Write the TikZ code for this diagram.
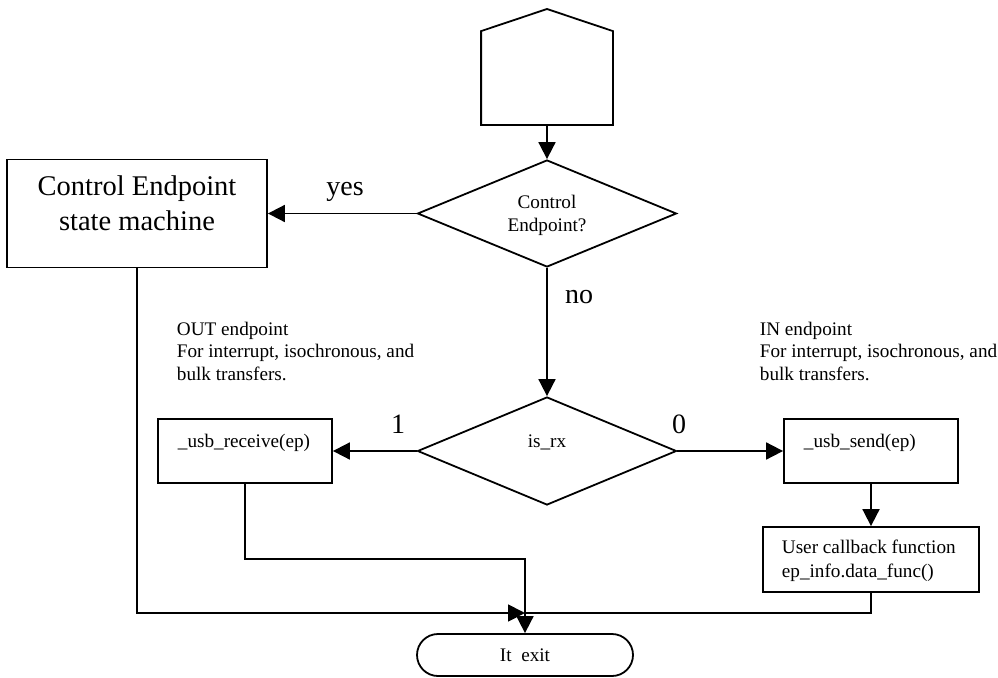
\documentclass[tikz,border=0pt]{standalone}
\usepackage{fontspec}
\setmainfont{Liberation Serif}
\usetikzlibrary{arrows.meta,shapes.geometric,shapes.misc}
\begin{document}
\begin{tikzpicture}[x=1pt,y=-1pt,
  line width=1.8pt,
  arr/.style={-{Triangle[length=17pt,width=17pt]}},
  procbox/.style={draw, rectangle, inner sep=0pt},
  decision/.style={draw, diamond, inner sep=0pt},
  small/.style={inner sep=0pt, font=\fontsize{19.2}{22.5}\selectfont},
  big/.style={inner sep=0pt, font=\fontsize{28.5}{35}\selectfont},
  lbl/.style={inner sep=0pt, anchor=base, font=\fontsize{28}{33}\selectfont}
]
\useasboundingbox (0,0) rectangle (998,677);

% entry connector (house-shaped)
\node[minimum width=130, minimum height=92, inner sep=0pt] (start) at (547,78) {};
\draw (start.south west) -- (start.north west) -- (547,9) -- (start.north east)
      -- (start.south east) -- cycle;

% decisions
\node[decision, minimum width=259, minimum height=107] (d1) at (547,213.5) {};
\node[decision, minimum width=259, minimum height=108] (d2) at (547,451) {};

% process boxes
\node[procbox, minimum width=260, minimum height=108] (ctrl) at (137,213.5) {};
\node[procbox, minimum width=174, minimum height=64] (recv) at (245,451) {};
\node[procbox, minimum width=174, minimum height=64] (send) at (871,451) {};
\node[procbox, minimum width=216, minimum height=65] (cb) at (871,559.5) {};

% terminator
\node[draw, rounded rectangle, minimum width=216, minimum height=42, inner sep=0pt,
      font=\fontsize{19.2}{22.5}\selectfont] (exit) at (525,655) {It\ \ exit};

% junction points of the return lines
\coordinate (join) at (525,613);
\coordinate (bend) at (525,559);

% box texts (base anchor of a multi-line node is its last line)
\node[big, align=center, anchor=base] (ctrltext) at (137,230) {Control Endpoint\\state machine};
\node[small, align=center, anchor=base] (d1text) at (547,231) {Control\\Endpoint?};
\node[small, anchor=base] (d2text) at (547,447) {is\_rx};
\node[small, anchor=base west] (recvtext) at (177,447) {\_usb\_receive(ep)};
\node[small, anchor=base west] (sendtext) at (803,447) {\_usb\_send(ep)};
\node[small, align=left, anchor=base west, font=\fontsize{19.2}{24}\selectfont] (cbtext) at (781,577)
  {User callback function\\ep\_info.data\_func()};

% notes
\node[small, align=left, anchor=base west] (outnote) at (176,380)
  {OUT endpoint\\For interrupt, isochronous, and\\bulk transfers.};
\node[small, align=left, anchor=base west] (innote) at (759,380)
  {IN endpoint\\For interrupt, isochronous, and\\bulk transfers.};

% branch labels
\node[lbl] (yes) at (345,195) {yes};
\node[lbl] (no) at (579,303) {no};
\node[lbl] (one) at (398,433) {1};
\node[lbl] (zero) at (679,433) {0};

% connectors
\draw[arr] (start.south) -- (d1.north);
\draw[arr] (d1.west) -- (ctrl.east);
\draw[arr] (d1.south) -- (d2.north);
\draw[arr] (d2.west) -- (recv.east);
\draw[arr] (d2.east) -- (send.west);
\draw[arr] (send.south) -- (cb.north);
\draw[arr] (ctrl.south) |- (join);
\draw[arr] (recv.south) |- (bend) -- (exit.north);
\draw (cb.south) |- (join);
\end{tikzpicture}
\end{document}
